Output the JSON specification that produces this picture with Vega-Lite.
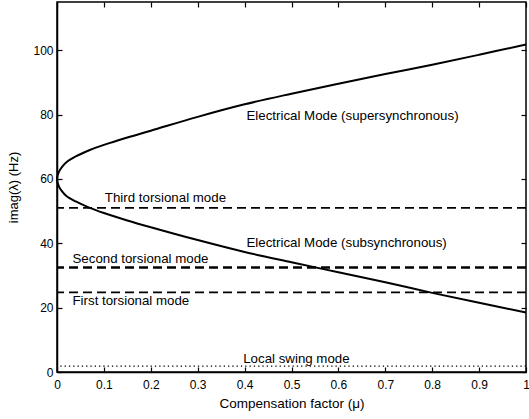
{
  "$schema": "https://vega.github.io/schema/vega-lite/v6.json",
  "width": 469,
  "height": 370,
  "autosize": "none",
  "padding": {"left": 57, "top": 2, "right": 3, "bottom": 47},
  "background": "white",
  "config": {
    "view": {"stroke": "black", "strokeWidth": 1.5},
    "font": "Liberation Sans",
    "axis": {
      "grid": false,
      "domainColor": "black",
      "domainWidth": 1.5,
      "tickColor": "black",
      "tickWidth": 1.2,
      "tickSize": -5,
      "labelColor": "black",
      "labelFont": "Liberation Sans",
      "labelFontSize": 12,
      "titleFont": "Liberation Sans",
      "titleFontSize": 13,
      "titleFontWeight": "normal",
      "titleColor": "black"
    }
  },
  "datasets": {
    "curves": [
      {"seq": 1, "mode": "super", "mu": 1.0, "f": 101.8},
      {"seq": 2, "mode": "super", "mu": 0.9, "f": 98.6},
      {"seq": 3, "mode": "super", "mu": 0.8, "f": 95.5},
      {"seq": 4, "mode": "super", "mu": 0.7, "f": 92.6},
      {"seq": 5, "mode": "super", "mu": 0.6, "f": 89.6},
      {"seq": 6, "mode": "super", "mu": 0.5, "f": 86.5},
      {"seq": 7, "mode": "super", "mu": 0.4, "f": 83.2},
      {"seq": 8, "mode": "super", "mu": 0.3, "f": 79.3},
      {"seq": 9, "mode": "super", "mu": 0.2, "f": 75.0},
      {"seq": 10, "mode": "super", "mu": 0.15, "f": 72.9},
      {"seq": 11, "mode": "super", "mu": 0.1, "f": 70.6},
      {"seq": 12, "mode": "super", "mu": 0.07, "f": 69.0},
      {"seq": 13, "mode": "super", "mu": 0.04, "f": 67.0},
      {"seq": 14, "mode": "super", "mu": 0.02, "f": 65.2},
      {"seq": 15, "mode": "super", "mu": 0.01, "f": 63.6},
      {"seq": 16, "mode": "super", "mu": 0.004, "f": 62.2},
      {"seq": 17, "mode": "nose", "mu": 0, "f": 59.9},
      {"seq": 18, "mode": "sub", "mu": 0.004, "f": 57.7},
      {"seq": 19, "mode": "sub", "mu": 0.01, "f": 56.3},
      {"seq": 20, "mode": "sub", "mu": 0.02, "f": 54.7},
      {"seq": 21, "mode": "sub", "mu": 0.04, "f": 53.0},
      {"seq": 22, "mode": "sub", "mu": 0.07, "f": 51.0},
      {"seq": 23, "mode": "sub", "mu": 0.1, "f": 49.4},
      {"seq": 24, "mode": "sub", "mu": 0.15, "f": 47.1},
      {"seq": 25, "mode": "sub", "mu": 0.2, "f": 45.0},
      {"seq": 26, "mode": "sub", "mu": 0.3, "f": 41.0},
      {"seq": 27, "mode": "sub", "mu": 0.4, "f": 37.3},
      {"seq": 28, "mode": "sub", "mu": 0.5, "f": 34.1},
      {"seq": 29, "mode": "sub", "mu": 0.6, "f": 31.0},
      {"seq": 30, "mode": "sub", "mu": 0.7, "f": 27.9},
      {"seq": 31, "mode": "sub", "mu": 0.8, "f": 24.6},
      {"seq": 32, "mode": "sub", "mu": 0.9, "f": 21.5},
      {"seq": 33, "mode": "sub", "mu": 1.0, "f": 18.5}
    ],
    "modes": [
      {"name": "Third torsional mode", "f": 51.0, "kind": "dash"},
      {"name": "Second torsional mode", "f": 32.5, "kind": "bold"},
      {"name": "First torsional mode", "f": 24.75, "kind": "dash"},
      {"name": "Local swing mode", "f": 1.8, "kind": "dot"}
    ],
    "labels": [
      {"text": "Electrical Mode (supersynchronous)", "mu": 0.404, "f": 79.7},
      {"text": "Electrical Mode (subsynchronous)", "mu": 0.404, "f": 40.1},
      {"text": "Third torsional mode", "mu": 0.102, "f": 54.0},
      {"text": "Second torsional mode", "mu": 0.033, "f": 35.1},
      {"text": "First torsional mode", "mu": 0.033, "f": 22.0},
      {"text": "Local swing mode", "mu": 0.397, "f": 4.0}
    ]
  },
  "layer": [
    {
      "data": {"name": "modes"},
      "transform": [{"filter": "datum.kind === 'dash'"}],
      "mark": {"type": "rule", "color": "black", "strokeWidth": 1.6, "strokeDash": [9, 5]},
      "encoding": {
        "y": {"field": "f", "type": "quantitative", "scale": {"domain": [0, 115]}, "axis": null}
      }
    },
    {
      "data": {"name": "modes"},
      "transform": [{"filter": "datum.kind === 'bold'"}],
      "mark": {"type": "rule", "color": "black", "strokeWidth": 2.6, "strokeDash": [9, 5]},
      "encoding": {
        "y": {"field": "f", "type": "quantitative", "axis": null}
      }
    },
    {
      "data": {"name": "modes"},
      "transform": [{"filter": "datum.kind === 'dot'"}],
      "mark": {"type": "rule", "color": "black", "strokeWidth": 1.3, "strokeDash": [1.3, 3]},
      "encoding": {
        "y": {"field": "f", "type": "quantitative", "axis": null}
      }
    },
    {
      "data": {"name": "curves"},
      "mark": {"type": "line", "color": "black", "strokeWidth": 2, "interpolate": "catmull-rom"},
      "encoding": {
        "x": {
          "field": "mu", "type": "quantitative",
          "scale": {"domain": [0, 1], "nice": false},
          "axis": {"orient": "bottom", "values": [0, 0.1, 0.2, 0.3, 0.4, 0.5, 0.6, 0.7, 0.8, 0.9, 1], "format": "~g", "labelPadding": 12, "title": "Compensation factor (μ)", "titleFontSize": 13.5, "titlePadding": 6, "labelFlush": false}
        },
        "y": {
          "field": "f", "type": "quantitative",
          "scale": {"domain": [0, 115], "nice": false},
          "axis": {"orient": "left", "values": [0, 20, 40, 60, 80, 100], "labelPadding": 9, "title": "imag(λ) (Hz)", "titlePadding": 12, "labelFlush": false}
        },
        "order": {"field": "seq"}
      }
    },
    {
      "data": {"name": "labels"},
      "mark": {"type": "text", "align": "left", "baseline": "middle", "font": "Liberation Sans", "fontSize": 13.3, "color": "black"},
      "encoding": {
        "x": {
          "field": "mu", "type": "quantitative",
          "axis": {"orient": "top", "values": [0, 0.1, 0.2, 0.3, 0.4, 0.5, 0.6, 0.7, 0.8, 0.9, 1], "labels": false, "title": null, "domain": false}
        },
        "y": {
          "field": "f", "type": "quantitative",
          "axis": {"orient": "right", "values": [0, 20, 40, 60, 80, 100], "labels": false, "title": null, "domain": false}
        },
        "text": {"field": "text"}
      }
    }
  ],
  "resolve": {"axis": {"x": "independent", "y": "independent"}}
}
